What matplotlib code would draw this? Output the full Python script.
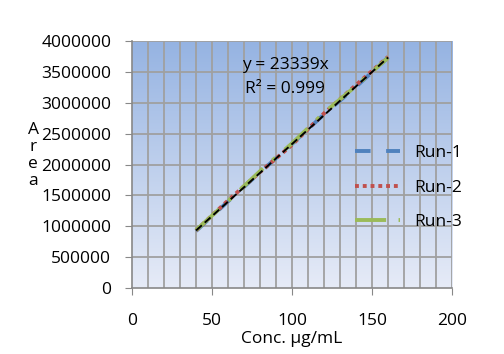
import numpy as np
import matplotlib
matplotlib.use("Agg")
import matplotlib.pyplot as plt
from matplotlib.colors import LinearSegmentedColormap

plt.rcParams['font.family'] = ['Open Sans', 'DejaVu Sans']

conc = [40, 60, 80, 100, 120, 140, 160]
run1 = [925000, 1405000, 1875000, 2335000, 2815000, 3260000, 3735000]
run2 = [935000, 1420000, 1880000, 2320000, 2830000, 3290000, 3745000]
run3 = [940000, 1410000, 1895000, 2345000, 2840000, 3275000, 3730000]
slope = 23339
r2 = 0.999
yticks = [0, 500000, 1000000, 1500000, 2000000, 2500000, 3000000, 3500000, 4000000]
xticks = [0, 50, 100, 150, 200]

FS = 12.5

fig = plt.figure(figsize=(5.04, 3.54), dpi=100)
ax = fig.add_axes([0.262, 0.186, 0.635, 0.698])
ax.set_xlim(0, 200)
ax.set_ylim(0, 4000000)

cmap = LinearSegmentedColormap.from_list('bg', ['#e6ebf7', '#95b3e2'])
grad = np.linspace(0, 1, 256).reshape(-1, 1)
ax.imshow(grad, cmap=cmap, origin='lower', aspect='auto',
          extent=[0, 200, 0, 4000000], zorder=0)

gc = '#a0a0a0'
for xv in range(10, 201, 10):
    ax.axvline(xv, color=gc, lw=1.3, zorder=1)
for yv in yticks[1:]:
    ax.axhline(yv, color=gc, lw=1.3, zorder=1)

l1, = ax.plot(conc, run1, color='#4f81bd', lw=2.8, dashes=(4.0, 4.0), label='Run-1', zorder=3)
l2, = ax.plot(conc, run2, color='#c0504d', lw=2.8, dashes=(1, 1), label='Run-2', zorder=3)
l3, = ax.plot(conc, run3, color='#9bbb59', lw=2.8, dashes=(8.0, 3.2, 1, 3.2), label='Run-3', zorder=3)
tx = np.array([conc[0], conc[-1]])
ax.plot(tx, slope * tx, color='black', lw=1.4, dashes=(4, 2), zorder=4)

ax.text(95.6, 3610000, 'y = 23339x', ha='center', va='center', fontsize=FS)
ax.text(95.6, 3220000, 'R² = %.3f' % r2, ha='center', va='center', fontsize=FS)

ax.set_xticks(xticks)
ax.set_yticks(yticks)
ax.set_yticklabels([str(v) for v in yticks])
ax.tick_params(axis='x', direction='out', length=5, color='#888888', pad=13, labelsize=FS)
ax.tick_params(axis='y', direction='out', length=5, color='#888888', pad=10, labelsize=FS)
for s in ['top', 'right']:
    ax.spines[s].set_visible(False)
for s in ['left', 'bottom']:
    ax.spines[s].set_color('#888888')
    ax.spines[s].set_linewidth(1.2)

ax.set_xlabel('Conc. µg/mL', fontsize=FS)
ax.xaxis.set_label_coords(0.5, -0.175)
fig.text(0.066, 0.56, 'A\nr\ne\na', ha='center', va='center', fontsize=FS, linespacing=1.08)

leg = ax.legend(handles=[l1, l2, l3], loc='upper left', bbox_to_anchor=(0.697, 0.578),
                frameon=False, fontsize=FS, handlelength=2.6, labelspacing=1.05,
                handletextpad=0.8, borderaxespad=0, borderpad=0)

fig.savefig('out.png', dpi=100)
